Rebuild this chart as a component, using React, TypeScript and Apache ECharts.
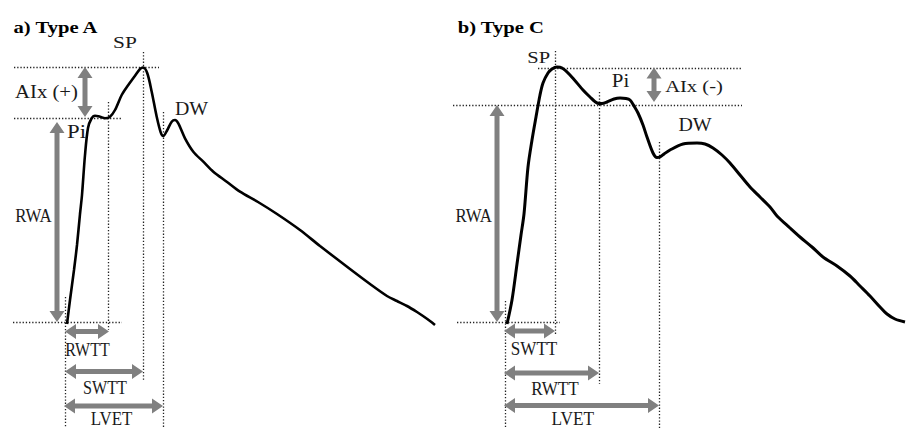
import React, { useEffect, useRef } from "react";
import * as echarts from "echarts";

// Waveform samples (time-position, amplitude-position)
const waveA: [number, number][] = [
  [67, 324], [70, 300], [74, 270], [77, 245], [80, 214], [82, 195], [85, 155], [88, 128],
  [91.5, 118.5], [95, 115.7], [100, 116.7], [105, 118.3], [110, 116.7], [115, 110],
  [121.7, 95], [128.3, 85], [135, 75.7], [140, 69], [143.3, 67.5], [147.3, 73.3],
  [151.7, 91.7], [156.7, 116.7], [160.7, 132.3], [163.3, 136], [167.3, 130], [171.7, 121.7],
  [175, 120], [178.3, 123.3], [185, 138.3], [193.3, 151.7], [203.3, 161.7], [213.3, 171.7],
  [226.7, 181.7], [240, 191.7], [258, 202], [277, 214], [300, 230], [320, 246], [350, 269],
  [370, 284], [387, 296], [397, 301], [407, 306], [417, 312], [423, 316], [430, 321], [435, 325],
];

const waveC: [number, number][] = [
  [507, 324], [512, 300], [517, 264], [521, 235], [524, 214], [528, 167], [532, 140],
  [536, 117], [540, 95], [543, 83], [548, 73], [552, 69], [557, 67], [562, 68], [570, 75],
  [583, 90], [590, 97], [597, 103], [602, 103.5], [607, 102], [614, 99], [620, 98],
  [626, 98.5], [630, 100], [634, 106], [638, 113], [643, 125], [647, 137], [653, 153],
  [657, 157.5], [660, 157], [664, 154], [670, 150], [683, 144], [697, 143], [705, 144],
  [713, 148], [722, 155], [730, 163], [740, 175], [750, 187], [760, 197], [770, 207],
  [777, 216], [790, 228], [800, 237], [812, 247], [823, 257], [837, 266], [850, 276],
  [860, 286], [870, 296], [880, 307], [887, 314], [895, 319], [905, 322],
];

// Dotted guide lines [x1, y1, x2, y2]
const guidesA: number[][] = [
  [14, 67, 159, 67], [14, 118, 122, 118], [13, 322, 122, 322],
  [143, 52, 143, 381], [108, 102, 108, 330], [163, 112, 163, 428], [65, 297, 65, 428],
];
const guidesC: number[][] = [
  [538, 68, 742, 68], [453, 105, 742, 105], [457, 322, 560, 322],
  [555, 51, 555, 334], [599, 92, 599, 384], [659, 142, 659, 428], [505, 301, 505, 428],
];

// Double-headed measurement arrows [x1, y1, x2, y2]
const arrowsA: number[][] = [
  [85, 67, 85, 117], // AIx
  [57, 122, 57, 322], // RWA
  [65, 331.5, 109, 331.5], // RWTT
  [65, 371.5, 143, 371.5], // SWTT
  [64, 406, 163, 406], // LVET
];
const arrowsC: number[][] = [
  [654, 67.5, 654, 102], // AIx
  [497, 105, 497, 322], // RWA
  [504, 331, 555, 331], // SWTT
  [504, 373, 599, 373], // RWTT
  [504, 405.5, 659, 405.5], // LVET
];

const SERIF = "Liberation Serif, Times New Roman, serif";

function label(text: string, x: number, y: number, fontSize: number, scaleX: number, bold = false) {
  return {
    type: "text",
    x,
    y,
    scaleX,
    silent: true,
    style: {
      text,
      fontSize,
      fontFamily: SERIF,
      fontWeight: bold ? "bold" : "normal",
      fill: bold ? "#000" : "#1a1a1a",
      align: "center",
      verticalAlign: "middle",
      textAlign: "center",
      textVerticalAlign: "middle",
    },
  };
}

function arrowRender(params: any, api: any) {
  const a = api.coord([api.value(0), api.value(1)]);
  const b = api.coord([api.value(2), api.value(3)]);
  const dx = b[0] - a[0];
  const dy = b[1] - a[1];
  const len = Math.hypot(dx, dy) || 1;
  const ux = dx / len;
  const uy = dy / len;
  const nx = -uy;
  const ny = ux;
  const hl = 11;
  const hw = 7.5;
  const sw = 2.5;
  const pt = (p: number[], along: number, across: number) => [
    p[0] + ux * along + nx * across,
    p[1] + uy * along + ny * across,
  ];
  const points = [
    a,
    pt(a, hl, hw),
    pt(a, hl, sw),
    pt(b, -hl, sw),
    pt(b, -hl, hw),
    b,
    pt(b, -hl, -hw),
    pt(b, -hl, -sw),
    pt(a, hl, -sw),
    pt(a, hl, -hw),
  ];
  return { type: "polygon", shape: { points }, style: { fill: "#808080" } };
}

function guideSeries(name: string, data: number[][]) {
  return {
    type: "lines",
    name,
    coordinateSystem: "cartesian2d",
    silent: true,
    data: data.map((d) => ({ coords: [[d[0], d[1]], [d[2], d[3]]] })),
    lineStyle: { color: "#222", width: 1.3, type: [1.3, 1.9], opacity: 1 },
    symbol: "none",
    z: 1,
  };
}

function arrowSeries(name: string, data: number[][]) {
  return {
    type: "custom",
    name,
    silent: true,
    data,
    encode: { x: [0, 2], y: [1, 3] },
    renderItem: arrowRender,
    z: 2,
  };
}

export default function App() {
  const ref = useRef<HTMLDivElement>(null);
  useEffect(() => {
    if (!ref.current) return;
    const chart = echarts.init(ref.current, undefined, { renderer: "svg" });
    chart.setOption({
      animation: false,
      backgroundColor: "#ffffff",
      grid: { left: 0, right: 0, top: 0, bottom: 0 },
      xAxis: { type: "value", min: 0, max: 907, show: false },
      yAxis: { type: "value", min: 0, max: 428, inverse: true, show: false },
      series: [
        guideSeries("guides A", guidesA),
        guideSeries("guides C", guidesC),
        arrowSeries("arrows A", arrowsA),
        arrowSeries("arrows C", arrowsC),
        {
          type: "line",
          name: "Type A",
          data: waveA,
          smooth: 0.3,
          showSymbol: false,
          symbol: "none",
          silent: true,
          lineStyle: { color: "#000", width: 2.6 },
          z: 3,
        },
        {
          type: "line",
          name: "Type C",
          data: waveC,
          smooth: 0.3,
          showSymbol: false,
          symbol: "none",
          silent: true,
          lineStyle: { color: "#000", width: 3 },
          z: 3,
        },
      ],
      graphic: [
        // panel a
        label("a) Type A", 55.5, 27.2, 16.5, 1.25, true),
        label("SP", 125, 42.5, 17.5, 1.22),
        label("AIx (+)", 46.5, 92, 18, 1.15),
        label("Pi", 76.5, 131.5, 19, 1.2),
        label("DW", 191.5, 108.3, 19.5, 1.02),
        label("RWA", 33.5, 215.5, 18.7, 0.9),
        label("RWTT", 87.5, 350, 19, 0.84),
        label("SWTT", 105, 388, 19, 0.85),
        label("LVET", 111.5, 418.8, 18, 0.94),
        // panel b
        label("b) Type C", 500.8, 27.2, 16.5, 1.25, true),
        label("SP", 538.7, 57.5, 17.5, 1.17),
        label("Pi", 620.5, 80, 19, 1.1),
        label("AIx (-)", 694, 86, 17.6, 1.17),
        label("DW", 695, 124.7, 19, 1.05),
        label("RWA", 473.7, 215.5, 18.7, 0.9),
        label("SWTT", 534, 349, 19, 0.9),
        label("RWTT", 555, 388.7, 19, 0.9),
        label("LVET", 572.8, 418.8, 18, 0.96),
      ],
    });
    return () => chart.dispose();
  }, []);
  return (
    <div
      ref={ref}
      style={{ position: "fixed", left: 0, top: 0, width: 907, height: 428, background: "#fff" }}
    />
  );
}
